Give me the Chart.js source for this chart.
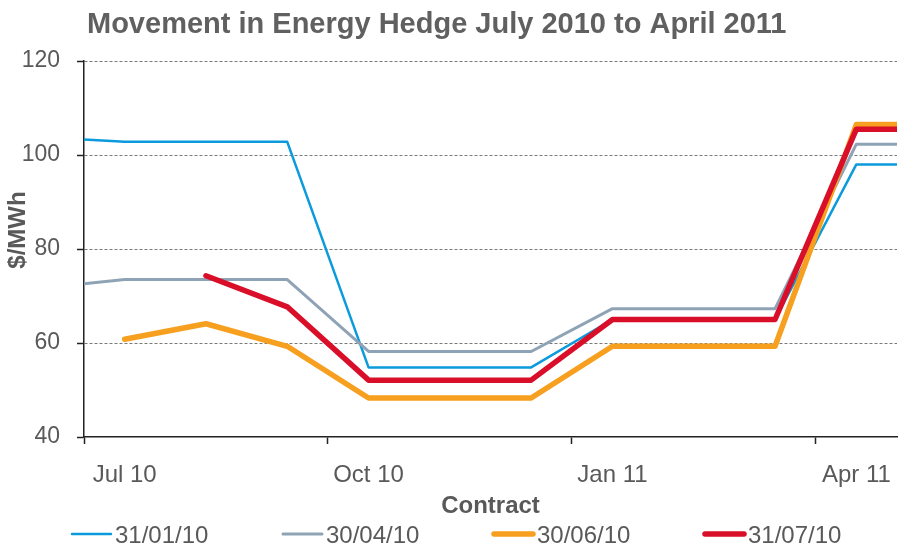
<!DOCTYPE html>
<html>
<head>
<meta charset="utf-8">
<script src="https://cdn.jsdelivr.net/npm/chart.js@4.4.0/dist/chart.umd.min.js"></script>
<style>
  html, body { margin: 0; padding: 0; background: #fff; }
</style>
</head>
<body>
<canvas id="hedgeChart" width="903" height="548"></canvas>
<script>
    // contract months (Jun 10 and May 11 only run off the plot edges)
    const months = ['Jun 10', 'Jul 10', 'Aug 10', 'Sep 10', 'Oct 10', 'Nov 10', 'Dec 10',
                    'Jan 11', 'Feb 11', 'Mar 11', 'Apr 11', 'May 11'];
    const labelMonths = ['Jul 10', 'Oct 10', 'Jan 11', 'Apr 11'];
    const seriesNames = ['31/01/10', '30/04/10', '30/06/10', '31/07/10'];

    const jan10 = [103.8, 102.8, 102.8, 102.8, 54.8, 54.8, 54.8, 65.0, 65.0, 65.0, 98.0, 98.0];
    const apr10 = [71.7, 73.5, 73.5, 73.5, 58.2, 58.2, 58.2, 67.3, 67.3, 67.3, 102.3, 102.3];
    const jun10 = [null, 60.8, 64.1, 59.3, 48.3, 48.3, 48.3, 59.3, 59.3, 59.3, 106.5, 106.5];
    const jul10 = [null, null, 74.3, 67.7, 52.1, 52.1, 52.1, 65.0, 65.0, 65.0, 105.5, 105.5];

    const chartTitle = 'Movement in Energy Hedge July 2010 to April 2011';
    const yTitle = '$/MWh';
    const xTitle = 'Contract';

    const FONT = '"Liberation Sans", Arial, sans-serif';
    const TEXT = '#595959';
    const AXIS = '#222';

    // labels sit on the month, tick marks sit half a month before it
    const xTicks = labelMonths.flatMap(m => [months.indexOf(m) - 0.5, months.indexOf(m)]);

    function points(values) {
        return values.map((v, i) => ({ x: i, y: v }));
    }

    // title, rotated y title and legend drawn straight onto the canvas
    const decorations = {
        id: 'decorations',
        afterDraw(chart) {
            const { ctx, chartArea } = chart;
            ctx.save();
            ctx.fillStyle = '#606060';
            ctx.font = 'bold 29px ' + FONT;
            ctx.textAlign = 'left';
            ctx.textBaseline = 'alphabetic';
            ctx.fillText(chartTitle, chartArea.left + 3, 33);

            ctx.save();
            ctx.translate(18, 230);
            ctx.rotate(-Math.PI / 2);
            ctx.textAlign = 'center';
            ctx.textBaseline = 'middle';
            ctx.font = 'bold 24px ' + FONT;
            ctx.fillStyle = TEXT;
            ctx.fillText(yTitle, 0, 0);
            ctx.restore();

            ctx.font = '24px ' + FONT;
            ctx.fillStyle = TEXT;
            ctx.textBaseline = 'middle';
            chart.data.datasets.forEach((ds, i) => {
                const x = 72 + i * 211;
                ctx.strokeStyle = ds.borderColor;
                ctx.lineWidth = ds.borderWidth;
                ctx.lineCap = 'round';
                ctx.beginPath();
                ctx.moveTo(x, 534);
                ctx.lineTo(x + 39, 534);
                ctx.stroke();
                ctx.fillText(ds.label, x + 43, 536);
            });
            ctx.restore();
        }
    };

    const lineStyle = { pointRadius: 0, tension: 0, clip: 0, borderCapStyle: 'round', borderJoinStyle: 'round' };

    new Chart(document.getElementById('hedgeChart'), {
        type: 'line',
        data: {
            datasets: [
                { ...lineStyle, label: seriesNames[0], data: points(jan10), borderColor: '#0b9bdc', borderWidth: 2.5, order: 4 },
                { ...lineStyle, label: seriesNames[1], data: points(apr10), borderColor: '#8fa3b6', borderWidth: 3, order: 3 },
                { ...lineStyle, label: seriesNames[2], data: points(jun10), borderColor: '#f79f1f', borderWidth: 5.5, order: 2 },
                { ...lineStyle, label: seriesNames[3], data: points(jul10), borderColor: '#d90f29', borderWidth: 5.5, order: 1 }
            ]
        },
        options: {
            responsive: false,
            animation: false,
            layout: { padding: { top: 61, right: 6, bottom: 0, left: 0 } },
            plugins: {
                legend: { display: false },
                tooltip: { enabled: false }
            },
            scales: {
                x: {
                    type: 'linear',
                    min: 0.5,
                    max: 10.5,
                    afterBuildTicks: scale => { scale.ticks = xTicks.map(v => ({ value: v })); },
                    afterFit: scale => {
                        scale.height = 111;
                        scale.paddingLeft = 0;
                        scale.paddingRight = 0;
                    },
                    ticks: {
                        autoSkip: false,
                        maxRotation: 0,
                        padding: 17,
                        color: TEXT,
                        font: { family: FONT, size: 24 },
                        callback: v => Number.isInteger(v) ? months[v] : ''
                    },
                    grid: {
                        drawOnChartArea: false,
                        tickLength: 7,
                        tickWidth: 1.5,
                        tickColor: c => Number.isInteger(c.tick.value) ? 'rgba(0,0,0,0)' : AXIS
                    },
                    border: { color: AXIS, width: 1.5 },
                    title: {
                        display: true,
                        text: xTitle,
                        color: TEXT,
                        font: { family: FONT, size: 24, weight: 'bold' },
                        padding: { top: 0, bottom: 27 }
                    }
                },
                y: {
                    min: 40,
                    max: 120,
                    afterFit: scale => { scale.width = 84; },
                    ticks: {
                        stepSize: 20,
                        padding: 17,
                        color: TEXT,
                        font: { family: FONT, size: 23 }
                    },
                    grid: {
                        color: c => c.tick && c.tick.value === 40 ? 'rgba(0,0,0,0)' : '#7a7a7a',
                        lineWidth: 1,
                        tickLength: 7,
                        tickWidth: 1.5,
                        tickColor: AXIS,
                        tickBorderDash: []
                    },
                    border: { color: AXIS, width: 1.5, dash: [3, 2] }
                }
            }
        },
        plugins: [decorations]
    });
</script>
</body>
</html>
